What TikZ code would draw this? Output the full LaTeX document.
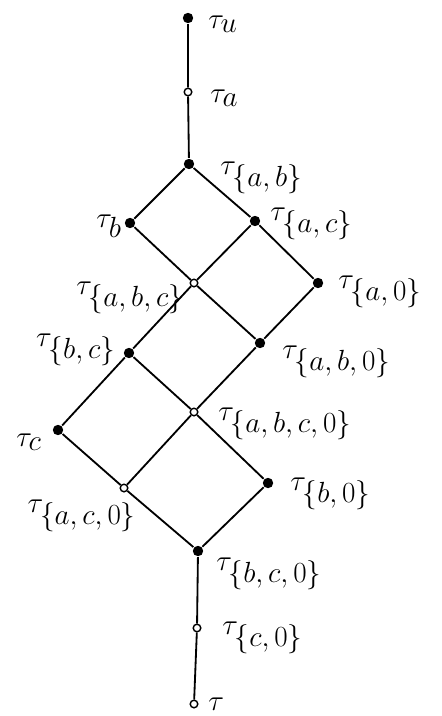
\documentclass[tikz,border=0pt]{standalone}
\usepackage{amsmath}
\usepackage{tikz}

\newcommand{\tset}[1]{\tau_{\textstyle\{#1\}}}

\begin{document}
\begin{tikzpicture}[
        x=0.025cm, y=-0.025cm,
        line width=1.3pt,
        lleno/.style={circle, fill, inner sep=0pt, minimum size=0.26cm},
        hueco/.style={circle, draw, fill=white, line width=1pt, inner sep=0pt, minimum size=0.19cm},
        etiq/.style={inner sep=1pt, font=\huge}
      ]
      \useasboundingbox (0,0) rectangle (441,716);

      % Puntos
      \node[lleno] (tu) at (188,18) {};
      \node[hueco] (ta) at (188,92) {};
      \node[lleno] (tab) at (189,164) {};
      \node[lleno] (tb) at (130,223) {};
      \node[lleno] (tac) at (255,221) {};
      \node[hueco] (tabc) at (194,283) {};
      \node[lleno] (ta0) at (318,283) {};
      \node[lleno] (tbc) at (129,353) {};
      \node[lleno] (tab0) at (260,343) {};
      \node[hueco] (tabc0) at (194,412) {};
      \node[lleno] (tc) at (58,430) {};
      \node[hueco] (tac0) at (124,488) {};
      \node[lleno] (tb0) at (268,483) {};
      \node[lleno] (tbc0) at (198,551) {};
      \node[hueco] (tc0) at (197,628) {};
      \node[hueco] (tz) at (194,704) {};

      % Etiquetas
      \node[etiq, anchor=west] (lu) at (206,24) {$\tau_{\textstyle u}$};
      \node[etiq, anchor=west] (la) at (208,98) {$\tau_{\textstyle a}$};
      \node[etiq, anchor=west] (lab) at (218,178) {$\tset{a,b}$};
      \node[etiq, anchor=east] (lb) at (124,226) {$\tau_{\textstyle b}$};
      \node[etiq, anchor=west] (lac) at (268,224) {$\tset{a,c}$};
      \node[etiq, anchor=east] (labc) at (186,298) {$\tset{a,b,c}$};
      \node[etiq, anchor=west] (la0) at (336,292) {$\tset{a,0}$};
      \node[etiq, anchor=east] (lbc) at (118,350) {$\tset{b,c}$};
      \node[etiq, anchor=west] (lab0) at (280,362) {$\tset{a,b,0}$};
      \node[etiq, anchor=west] (labc0) at (216,424) {$\tset{a,b,c,0}$};
      \node[etiq, anchor=east] (lc) at (44,442) {$\tau_{\textstyle c}$};
      \node[etiq] (lac0) at (82,516) {$\tset{a,c,0}$};
      \node[etiq, anchor=west] (lb0) at (288,494) {$\tset{b,0}$};
      \node[etiq, anchor=west] (lbc0) at (214,574) {$\tset{b,c,0}$};
      \node[etiq, anchor=west] (lc0) at (220,638) {$\tset{c,0}$};
      \node[etiq, anchor=west] (lz) at (206,704) {$\tau$};

      % Aristas
      \draw (tu) -- (ta) -- (tab);
      \draw (tab) -- (tb) -- (tabc) -- (tbc) -- (tc) -- (tac0) -- (tbc0);
      \draw (tab) -- (tac) -- (ta0) -- (tab0) -- (tabc0) -- (tb0) -- (tbc0);
      \draw (tac) -- (tabc) -- (tab0);
      \draw (tbc) -- (tabc0) -- (tac0);
      \draw (tbc0) -- (tc0) -- (tz);

    \end{tikzpicture}
\end{document}
